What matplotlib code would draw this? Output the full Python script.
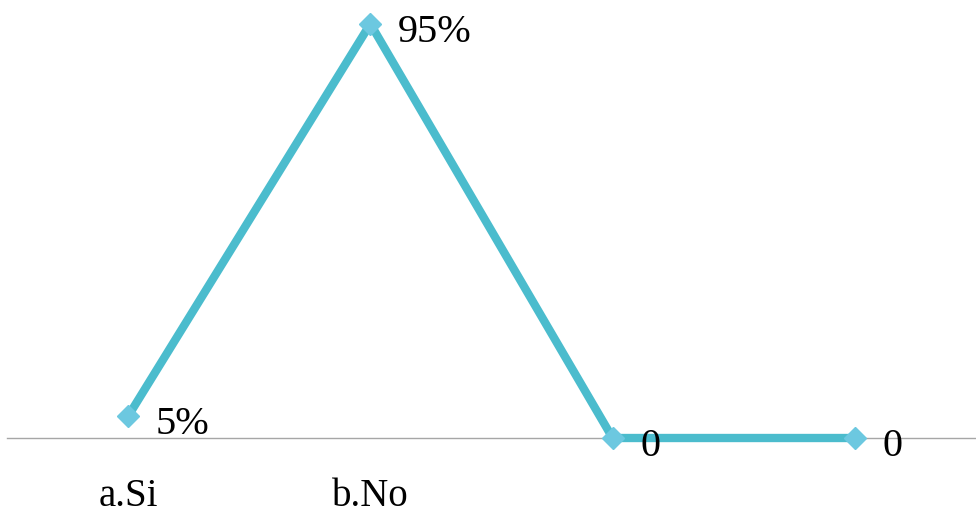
import matplotlib.pyplot as plt

categories = ['a.Si', 'b.No', '', '']
values = [5, 95, 0, 0]
labels = ['5%', '95%', '0', '0']

plt.rcParams['font.family'] = ['Liberation Serif', 'DejaVu Serif']

fig = plt.figure(figsize=(9.76, 5.16), dpi=100)
ax = fig.add_axes([7 / 976, 78 / 516, 969 / 976, 436 / 516])

x = list(range(len(values)))
ax.plot(x, values, color='#4bbccd', linewidth=6, solid_joinstyle='miter',
        marker='D', markersize=11, markerfacecolor='#6cc8e0',
        markeredgecolor='#6cc8e0', clip_on=False, zorder=3)

# data labels to the right of each point
for xi, v, lab in zip(x, values, labels):
    ax.annotate(lab, (xi, v), xytext=(20, -6), textcoords='offset points',
                ha='left', va='center', fontsize=29, color='black', zorder=4)

ax.set_xlim(-0.5, 3.5)
ax.set_ylim(0, 100)
ax.set_xticks(x)
ax.set_xticklabels(categories, fontsize=28)
ax.tick_params(axis='x', length=0, pad=29)
ax.set_yticks([])
for side in ['top', 'right', 'left']:
    ax.spines[side].set_visible(False)
ax.spines['bottom'].set_color('#a6a6a6')
ax.spines['bottom'].set_linewidth(1)

fig.savefig('out.png', dpi=100)
